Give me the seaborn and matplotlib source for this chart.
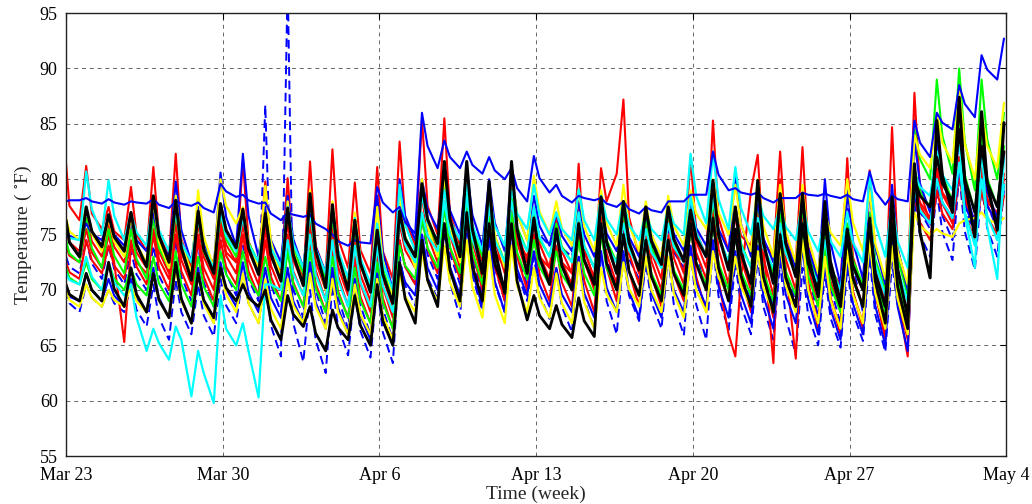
import numpy as np
import pandas as pd
import matplotlib
matplotlib.use("Agg")
import matplotlib.pyplot as plt
import seaborn as sns

# ---------------- data (deg F) ----------------
# Each series: value at start of Mar 23, then per day d (0..41):
# night value (ev), morning trough (tr) and evening peak (pk).
tick_labels = ["Mar 23", "Mar 30", "Apr 6", "Apr 13", "Apr 20", "Apr 27", "May 4"]
tick_days = [0, 7, 14, 21, 28, 35, 42]
y_ticks = [55, 60, 65, 70, 75, 80, 85, 90, 95]

bd1_start = 70.0
bd1_ev = [68.8, 69.3, 68.8, 68.2, 67.5, 68.0, 67.7, 68.6, 68.8, 66.8, 67.0, 65.5, 66.7, 66.3, 66.2, 70.4, 71.1, 70.7, 71.3, 70.6, 71.6,
          69.6, 68.5, 69.1, 69.0, 69.5, 68.9, 68.7, 68.7, 69.4, 68.6, 68.5, 67.5, 67.8, 67.5, 68.0, 67.8, 68.5, 75.0, 75.2, 75.3, 75.6]
bd1_tr = [68.0, 68.5, 68.0, 66.7, 65.5, 66.0, 65.8, 67.0, 67.0, 64.0, 63.5, 62.5, 64.1, 63.9, 63.4, 68.6, 69.2, 67.5, 68.1, 68.0, 69.0,
          67.4, 66.2, 66.5, 66.0, 67.2, 66.5, 65.9, 65.5, 66.4, 66.0, 65.5, 64.2, 65.0, 64.8, 65.4, 64.4, 65.9, 73.0, 72.7, 71.8, 73.0]
bd1_pk = [70.5, 70.0, 70.5, 70.5, 71.0, 70.5, 71.0, 71.5, 71.0, 98.0, 70.0, 70.5, 70.0, 70.5, 73.0, 74.0, 75.5, 76.0, 74.5, 75.5, 73.0,
          72.0, 73.0, 73.5, 73.0, 72.5, 73.0, 73.5, 74.0, 72.5, 73.0, 72.5, 72.0, 71.5, 72.0, 73.0, 72.5, 78.0, 79.0, 80.5, 79.5, 79.0]

bd2_start = 73.0
bd2_ev = [72.1, 72.4, 71.9, 71.4, 71.3, 71.2, 70.7, 71.5, 71.0, 70.5, 70.1, 70.0, 69.3, 68.6, 68.3, 72.1, 73.2, 73.3, 72.9, 72.0, 73.1,
          75.0, 73.8, 73.8, 72.7, 72.8, 73.9, 73.4, 73.2, 72.1, 71.4, 71.5, 71.6, 71.7, 70.2, 72.2, 70.6, 70.5, 77.1, 76.7, 77.4, 77.7]
bd2_tr = [71.5, 71.0, 70.5, 70.0, 69.5, 69.0, 68.5, 69.5, 69.0, 68.0, 67.5, 67.0, 66.5, 66.0, 65.5, 70.5, 71.0, 70.5, 69.5, 69.0, 70.5,
          74.0, 73.0, 72.0, 70.5, 71.0, 72.5, 72.0, 70.0, 69.5, 69.0, 68.5, 69.0, 67.5, 67.0, 68.0, 67.0, 66.5, 75.5, 74.5, 75.0, 75.5]
bd2_pk = [74.5, 74.0, 73.5, 74.0, 74.5, 74.0, 74.5, 74.0, 86.7, 74.0, 74.5, 73.5, 72.5, 72.5, 74.5, 76.5, 77.5, 78.0, 76.5, 77.0, 76.5,
          75.0, 76.5, 76.0, 75.5, 76.0, 75.5, 78.0, 76.0, 75.0, 76.0, 75.5, 78.0, 75.0, 78.5, 76.0, 76.5, 79.5, 80.0, 81.0, 80.5, 80.0]

r2_start = 72.5
r2_ev = [71.6, 72.7, 72.2, 72.1, 72.0, 71.7, 71.2, 72.1, 71.7, 71.2, 70.7, 70.6, 69.9, 69.4, 69.3, 72.1, 73.7, 73.8, 73.4, 72.2, 73.0,
         71.4, 70.7, 70.8, 72.0, 71.7, 71.3, 71.4, 71.2, 70.8, 71.0, 74.0, 72.0, 70.7, 69.2, 69.9, 69.9, 69.2, 77.9, 77.8, 78.1, 77.6]
r2_tr = [71.0, 71.5, 71.0, 70.5, 70.0, 69.5, 69.0, 70.5, 69.5, 69.0, 68.5, 68.0, 67.5, 67.0, 66.5, 70.5, 71.5, 71.0, 70.0, 69.0, 70.0,
         69.0, 68.5, 68.0, 69.0, 68.5, 68.5, 69.0, 68.0, 66.0, 79.0, 63.4, 63.8, 66.5, 66.0, 66.5, 65.5, 64.0, 76.5, 76.0, 75.5, 76.0]
r2_pk = [74.5, 74.0, 74.5, 75.0, 75.0, 74.5, 74.5, 75.0, 74.5, 74.0, 74.5, 73.5, 73.0, 73.5, 74.5, 77.0, 78.0, 78.5, 77.0, 77.5, 75.0,
         74.0, 75.0, 76.5, 76.5, 75.5, 75.0, 76.0, 78.0, 64.0, 82.2, 80.0, 77.0, 74.5, 75.0, 76.5, 77.0, 80.0, 80.5, 82.0, 80.0, 79.5]

r3_start = 74.0
r3_ev = [73.1, 73.4, 72.5, 72.5, 72.8, 72.7, 72.0, 73.1, 72.7, 72.2, 71.7, 71.8, 71.3, 70.6, 70.3, 73.6, 74.9, 75.0, 74.4, 73.2, 74.3,
         73.2, 72.5, 72.6, 73.3, 73.3, 72.6, 72.9, 73.4, 72.2, 71.0, 71.3, 71.3, 70.6, 69.3, 69.8, 69.6, 69.5, 76.1, 76.9, 76.9, 76.6]
r3_tr = [72.5, 72.0, 65.3, 71.5, 71.0, 70.5, 70.0, 71.5, 70.5, 70.0, 69.5, 69.0, 68.5, 68.0, 67.5, 72.0, 72.5, 72.0, 71.0, 70.0, 71.5,
         71.0, 70.5, 70.0, 70.5, 70.5, 70.0, 70.5, 71.0, 69.0, 68.0, 67.5, 68.5, 67.0, 66.5, 67.0, 66.0, 65.5, 74.5, 75.5, 74.5, 75.0]
r3_pk = [75.5, 75.0, 74.0, 75.5, 76.0, 75.0, 75.5, 76.0, 75.5, 75.0, 76.0, 75.5, 74.5, 74.5, 76.0, 78.5, 79.5, 79.5, 78.0, 78.5, 76.5,
         75.5, 76.5, 77.5, 77.5, 76.5, 76.5, 77.0, 77.0, 75.5, 77.0, 75.5, 76.0, 73.5, 74.0, 75.0, 75.5, 78.5, 79.0, 80.5, 79.0, 78.5]

r4_start = 75.5
r4_ev = [74.3, 74.4, 73.9, 73.4, 73.5, 73.4, 73.0, 74.1, 73.5, 73.0, 72.7, 72.6, 72.1, 71.4, 71.1, 74.6, 75.9, 75.8, 75.7, 74.5, 75.3,
         74.2, 73.5, 73.6, 74.1, 74.1, 73.4, 73.9, 74.4, 73.7, 72.8, 72.9, 72.8, 72.1, 70.8, 71.3, 71.1, 71.0, 77.6, 78.6, 78.4, 78.3]
r4_tr = [73.5, 73.0, 72.5, 72.0, 71.5, 71.0, 71.0, 72.5, 71.5, 71.0, 70.5, 70.0, 69.5, 69.0, 68.5, 73.0, 73.5, 73.0, 72.5, 71.5, 72.5,
         72.0, 71.5, 71.0, 71.5, 71.5, 71.0, 71.5, 72.0, 70.5, 70.0, 69.5, 70.0, 68.5, 68.0, 68.5, 67.5, 67.0, 76.0, 77.0, 76.0, 76.5]
r4_pk = [76.5, 76.0, 75.5, 76.5, 77.0, 76.0, 76.5, 76.5, 76.0, 76.0, 76.5, 76.0, 75.0, 75.0, 77.0, 79.5, 80.0, 80.5, 79.0, 79.5, 77.5,
         76.5, 77.5, 78.0, 78.0, 77.0, 77.5, 78.0, 78.5, 77.0, 78.0, 77.0, 77.5, 75.0, 75.5, 76.5, 77.0, 80.0, 81.0, 82.0, 81.0, 80.5]

r1_start = 81.4
r1_ev = [77.6, 76.9, 75.3, 75.0, 75.0, 74.6, 73.5, 73.4, 74.4, 73.6, 73.3, 74.0, 74.7, 73.6, 73.5, 76.4, 77.6, 76.9, 74.5, 73.5, 74.4,
         73.0, 72.5, 73.6, 78.0, 76.6, 73.6, 73.6, 75.3, 76.5, 74.9, 74.4, 75.0, 74.0, 71.8, 73.0, 72.0, 73.7, 79.0, 78.8, 77.6, 77.9]
r1_tr = [76.3, 75.5, 74.5, 73.5, 73.0, 72.0, 72.5, 72.5, 72.0, 71.5, 71.0, 71.5, 72.0, 71.5, 71.0, 74.0, 75.0, 74.0, 73.0, 72.0, 73.0,
         72.0, 71.5, 71.0, 80.5, 73.0, 72.5, 72.5, 73.0, 73.5, 74.0, 73.0, 72.5, 71.0, 70.5, 70.0, 69.0, 70.0, 76.0, 77.5, 76.5, 77.0]
r1_pk = [81.2, 77.5, 79.3, 81.1, 82.3, 76.5, 76.0, 81.7, 79.8, 80.1, 81.6, 82.7, 79.7, 81.1, 83.4, 85.5, 85.5, 79.0, 78.0, 78.5, 76.0,
         75.5, 81.4, 81.0, 87.2, 77.0, 77.0, 82.0, 85.3, 77.5, 78.5, 82.5, 82.9, 75.5, 81.9, 80.8, 84.7, 87.8, 82.5, 81.0, 80.5, 80.0]

g2_start = 72.0
g2_ev = [71.1, 71.0, 71.0, 70.5, 70.6, 70.5, 70.3, 71.4, 71.1, 70.6, 70.5, 70.2, 69.7, 69.0, 68.9, 72.2, 73.8, 73.9, 73.5, 72.6, 73.4,
         72.1, 71.4, 71.5, 72.0, 71.7, 71.5, 71.8, 72.5, 72.4, 71.7, 71.6, 71.7, 71.3, 70.4, 70.9, 71.0, 70.9, 78.9, 80.4, 80.4, 80.1]
g2_tr = [70.5, 70.0, 70.0, 69.5, 69.0, 68.5, 68.5, 70.0, 69.5, 69.0, 68.5, 68.0, 67.5, 67.0, 66.5, 71.0, 72.0, 71.5, 70.5, 70.0, 71.0,
         70.5, 70.0, 69.5, 70.0, 69.5, 69.5, 70.0, 70.5, 70.0, 69.5, 69.0, 69.5, 68.5, 68.0, 68.5, 68.0, 67.5, 77.5, 78.0, 77.0, 77.5]
g2_pk = [72.5, 72.5, 72.0, 73.0, 73.5, 73.0, 73.5, 73.5, 73.0, 73.5, 73.5, 73.0, 72.0, 72.5, 74.0, 76.5, 77.5, 78.0, 76.5, 77.0, 74.5,
         73.5, 74.5, 75.0, 75.0, 74.5, 74.5, 75.5, 76.0, 75.0, 75.5, 75.0, 75.5, 74.0, 74.5, 75.5, 76.0, 81.0, 84.0, 85.5, 84.0, 83.0]

g1_start = 74.5
g1_ev = [73.3, 73.8, 73.1, 72.8, 73.8, 73.7, 73.5, 74.6, 74.3, 73.8, 73.7, 73.4, 72.9, 72.2, 71.9, 74.8, 76.0, 75.9, 75.8, 74.9, 75.7,
         74.6, 73.9, 74.0, 74.5, 74.0, 73.8, 74.3, 74.8, 74.7, 74.2, 74.1, 73.7, 73.3, 72.2, 72.7, 72.8, 72.9, 81.8, 83.9, 83.4, 83.6]
g1_tr = [72.5, 72.0, 71.5, 71.0, 72.0, 71.5, 71.5, 73.0, 72.5, 72.0, 71.5, 71.0, 70.5, 70.0, 69.5, 73.0, 74.0, 73.5, 73.0, 72.5, 73.5,
         73.0, 72.5, 72.0, 72.5, 72.0, 72.0, 72.5, 73.0, 72.5, 72.0, 71.5, 71.5, 70.5, 70.0, 70.5, 70.0, 69.5, 80.0, 80.5, 79.0, 80.0]
g1_pk = [76.5, 75.5, 75.5, 76.5, 77.0, 76.5, 77.0, 77.0, 76.5, 77.0, 77.0, 76.5, 75.5, 75.5, 77.5, 79.0, 79.5, 80.0, 78.5, 79.0, 77.0,
         76.0, 77.0, 77.5, 77.0, 76.5, 77.0, 77.5, 78.0, 77.5, 78.0, 77.0, 77.5, 75.5, 76.0, 77.0, 78.0, 84.5, 89.0, 90.0, 89.0, 86.0]

b3_start = 70.0
b3_ev = [69.4, 70.0, 69.5, 69.2, 69.3, 69.2, 69.0, 70.1, 69.8, 69.3, 69.0, 68.9, 68.4, 67.7, 67.6, 70.7, 72.0, 72.1, 71.7, 70.8, 71.9,
         70.5, 69.6, 69.7, 70.2, 69.9, 69.7, 70.0, 70.7, 70.3, 69.6, 69.5, 69.6, 69.2, 68.3, 68.8, 68.6, 68.5, 77.0, 77.9, 77.7, 77.6]
b3_tr = [69.0, 69.0, 68.5, 68.0, 67.5, 67.0, 67.0, 68.5, 68.0, 67.5, 67.0, 66.5, 66.0, 65.5, 65.0, 69.5, 70.0, 69.5, 68.5, 68.0, 69.5,
         68.5, 68.0, 67.5, 68.0, 67.5, 67.5, 68.0, 68.5, 67.5, 67.0, 66.5, 67.0, 66.0, 65.5, 66.0, 65.0, 64.5, 76.0, 76.5, 75.5, 76.0]
b3_pk = [71.5, 71.0, 71.0, 72.0, 72.5, 72.0, 72.5, 72.5, 72.0, 72.0, 72.5, 72.0, 71.0, 71.5, 72.5, 75.0, 76.0, 76.5, 75.0, 75.5, 73.5,
         72.0, 73.0, 73.5, 73.5, 73.0, 73.0, 74.0, 74.5, 73.5, 74.0, 73.5, 74.0, 72.5, 73.0, 74.0, 74.5, 78.5, 80.0, 81.0, 80.0, 79.5]

b2_start = 75.5
b2_ev = [74.9, 75.1, 75.0, 74.5, 74.6, 75.4, 74.2, 76.6, 76.7, 74.5, 74.6, 73.9, 73.4, 72.7, 73.4, 76.7, 77.3, 77.2, 76.8, 76.1, 76.9,
         75.8, 74.9, 75.0, 75.1, 74.8, 74.6, 75.1, 75.6, 75.5, 76.0, 74.7, 74.4, 73.8, 74.3, 74.4, 73.9, 73.8, 79.6, 79.9, 79.2, 78.9]
b2_tr = [74.5, 74.5, 74.0, 73.5, 73.0, 72.5, 72.0, 74.0, 73.0, 72.5, 72.0, 71.5, 71.0, 70.5, 70.0, 74.5, 75.5, 75.0, 74.0, 73.5, 74.5,
         74.0, 73.5, 73.0, 73.5, 73.0, 73.0, 73.5, 74.0, 73.5, 73.0, 72.5, 72.0, 71.0, 70.5, 71.0, 70.5, 70.0, 77.0, 77.5, 76.0, 76.5]
b2_pk = [76.0, 76.5, 76.0, 77.0, 79.8, 77.5, 80.6, 82.3, 77.5, 78.5, 77.5, 77.0, 76.0, 78.5, 80.0, 80.0, 80.5, 81.0, 80.0, 80.5, 78.5,
         77.0, 78.0, 77.5, 77.5, 77.0, 77.5, 78.0, 78.5, 80.5, 78.0, 78.0, 78.0, 80.0, 79.5, 79.0, 79.5, 83.5, 83.5, 84.0, 82.5, 82.0]

y2_start = 70.0
y2_ev = [69.1, 69.3, 69.1, 69.0, 69.1, 69.0, 68.8, 69.6, 68.8, 68.3, 68.6, 68.5, 68.0, 67.8, 67.7, 69.4, 70.8, 70.7, 70.3, 69.6, 70.4,
         69.3, 68.8, 68.9, 69.6, 70.1, 70.0, 69.7, 70.0, 71.1, 70.3, 70.2, 70.4, 70.0, 69.1, 69.6, 69.7, 69.2, 75.8, 75.1, 76.3, 76.4]
y2_tr = [68.5, 68.5, 68.5, 68.0, 67.5, 67.0, 67.0, 68.0, 67.0, 66.5, 67.0, 66.5, 66.0, 66.0, 65.5, 68.0, 69.0, 68.5, 67.5, 67.0, 68.0,
         67.5, 67.0, 66.5, 68.0, 68.5, 68.0, 67.5, 68.0, 69.5, 68.5, 68.0, 68.0, 67.0, 66.5, 67.0, 66.5, 66.0, 75.0, 74.8, 76.5, 76.0]
y2_pk = [70.5, 70.0, 70.5, 71.5, 72.0, 71.5, 72.0, 71.5, 71.0, 71.0, 71.5, 71.0, 70.5, 71.0, 71.5, 73.5, 74.0, 74.5, 73.5, 74.0, 72.0,
         71.5, 72.5, 72.0, 72.5, 73.0, 73.0, 73.0, 73.5, 73.0, 73.5, 74.0, 74.5, 73.0, 73.5, 74.5, 74.0, 77.0, 75.5, 76.0, 77.0, 76.5]

y1_start = 76.5
y1_ev = [75.3, 75.1, 74.4, 74.1, 74.4, 74.3, 74.8, 77.6, 74.2, 74.4, 73.5, 73.6, 73.5, 72.8, 72.7, 74.6, 75.8, 75.7, 75.3, 75.0, 76.9,
         77.1, 75.6, 75.7, 76.0, 75.9, 75.0, 75.8, 76.9, 77.0, 75.9, 75.8, 75.3, 74.7, 75.2, 76.1, 74.2, 73.5, 82.2, 83.3, 83.2, 83.0]
y1_tr = [74.5, 73.5, 73.0, 72.5, 72.0, 71.5, 72.0, 76.0, 72.0, 71.0, 70.5, 70.0, 70.5, 70.0, 69.5, 72.0, 73.0, 72.5, 71.5, 72.0, 74.5,
         75.0, 74.0, 73.5, 74.0, 73.5, 73.0, 74.0, 75.5, 75.0, 73.5, 73.0, 72.5, 71.5, 74.0, 73.5, 71.0, 70.5, 81.0, 81.5, 80.0, 81.0]
y1_pk = [77.5, 76.5, 76.5, 78.0, 78.5, 79.0, 80.0, 77.5, 79.4, 78.0, 79.0, 78.0, 77.0, 77.5, 78.5, 80.0, 80.5, 81.0, 79.5, 80.5, 80.3,
         78.0, 79.0, 79.0, 79.5, 78.0, 78.5, 79.0, 80.0, 79.5, 80.0, 79.5, 79.5, 77.0, 80.0, 79.0, 78.0, 84.0, 86.0, 88.1, 86.0, 86.9]

c2_start = 71.5
c2_ev = [70.9, 71.2, 70.7, 67.5, 65.2, 65.5, 62.5, 66.5, 64.5, 70.5, 71.5, 71.4, 70.9, 70.7, 70.4, 74.1, 74.9, 75.0, 74.6, 74.5, 75.3,
         74.8, 73.7, 74.0, 73.9, 73.6, 73.4, 73.9, 75.2, 74.9, 74.0, 73.8, 73.3, 72.7, 71.8, 72.0, 72.3, 71.8, 77.2, 77.9, 77.0, 76.7]
c2_tr = [70.5, 70.0, 69.5, 64.5, 63.7, 60.4, 59.8, 65.0, 60.3, 70.0, 69.5, 69.0, 68.5, 68.5, 68.0, 72.5, 73.5, 73.0, 72.0, 72.5, 73.5,
         73.0, 72.5, 72.0, 72.5, 72.0, 72.0, 72.5, 73.0, 72.5, 72.0, 72.0, 71.5, 70.5, 70.0, 70.0, 69.5, 69.0, 76.0, 76.5, 74.0, 74.5]
c2_pk = [73.0, 72.5, 70.5, 66.5, 66.7, 64.5, 69.5, 67.0, 70.5, 74.5, 75.0, 74.5, 74.0, 74.0, 76.5, 77.0, 78.0, 78.5, 77.5, 78.0, 77.5,
         75.5, 77.0, 76.0, 76.0, 75.5, 76.0, 78.5, 78.5, 77.0, 76.5, 76.0, 76.0, 74.5, 75.0, 76.5, 76.0, 79.0, 80.0, 81.5, 80.0, 79.5]

c1_start = 75.0
c1_ev = [74.7, 77.3, 76.7, 75.2, 75.4, 74.3, 73.8, 74.9, 74.1, 73.8, 74.2, 73.7, 73.6, 72.9, 72.4, 75.9, 76.1, 76.3, 75.9, 75.8, 76.9,
         76.8, 75.5, 76.3, 76.4, 75.9, 75.5, 76.0, 78.5, 78.2, 77.4, 76.7, 75.7, 75.3, 74.4, 74.3, 76.0, 74.4, 79.3, 80.4, 76.8, 75.8]
c1_tr = [74.5, 75.0, 74.5, 74.0, 73.5, 72.5, 72.0, 73.5, 72.5, 72.0, 72.0, 71.5, 71.0, 70.5, 70.0, 73.5, 74.5, 74.5, 73.5, 74.0, 75.5,
         75.0, 74.5, 74.5, 75.0, 74.5, 74.5, 75.0, 76.0, 75.5, 75.0, 75.5, 74.5, 73.5, 73.0, 72.5, 73.0, 72.0, 78.5, 79.0, 72.0, 71.0]
c1_pk = [80.7, 79.9, 77.0, 78.3, 77.0, 76.5, 77.0, 76.5, 76.5, 77.5, 77.0, 77.5, 76.5, 76.0, 79.5, 78.5, 79.0, 79.5, 78.5, 79.0, 79.5,
         77.0, 79.1, 78.5, 78.0, 77.0, 77.5, 82.3, 82.3, 81.1, 78.5, 77.5, 78.0, 76.5, 77.0, 80.5, 78.0, 80.5, 82.5, 84.0, 83.0, 82.0]

b0_start = 78.0
b0_ev = [78.1, 78.0, 77.9, 77.9, 77.7, 77.8, 77.4, 78.9, 78.1, 76.9, 76.8, 76.0, 74.4, 74.3, 77.9, 76.1, 83.0, 82.0, 81.3, 80.8, 79.2,
         80.1, 78.5, 78.3, 77.8, 77.3, 77.2, 78.0, 78.6, 80.4, 78.8, 78.3, 78.3, 78.6, 78.5, 78.2, 78.9, 78.2, 83.3, 85.1, 86.8, 89.9]
b0_tr = [78.1, 77.8, 77.7, 77.8, 77.4, 77.6, 77.0, 78.4, 77.8, 76.3, 76.6, 75.5, 74.0, 74.2, 77.0, 75.1, 81.0, 81.0, 80.5, 80.0, 78.0,
         78.8, 77.9, 78.1, 77.5, 76.9, 77.0, 78.0, 78.6, 79.0, 78.6, 77.9, 78.3, 78.5, 78.3, 78.0, 77.7, 78.0, 82.0, 84.5, 85.6, 89.0]
b0_pk = [78.3, 78.2, 78.0, 78.2, 78.0, 77.9, 79.6, 78.6, 77.9, 77.0, 76.8, 75.0, 74.5, 79.3, 77.5, 86.0, 83.5, 82.5, 82.0, 81.0, 82.1,
         79.5, 78.5, 78.3, 78.0, 77.5, 78.0, 78.6, 82.5, 79.2, 78.8, 78.3, 78.8, 78.7, 78.6, 80.7, 78.6, 85.3, 86.0, 88.5, 91.2, 92.7]

k2_start = 70.5
k2_ev = [69.6, 70.0, 70.1, 69.6, 69.1, 69.2, 69.1, 70.2, 69.3, 67.3, 67.8, 66.1, 66.6, 66.8, 67.2, 69.2, 70.9, 71.8, 72.2, 72.4, 70.8,
         67.7, 66.9, 67.2, 72.4, 71.7, 71.2, 71.5, 72.4, 72.0, 71.3, 71.2, 71.1, 72.4, 72.6, 71.1, 70.8, 70.3, 78.5, 79.6, 80.0, 79.7]
k2_tr = [69.0, 69.0, 68.5, 68.0, 67.5, 67.0, 67.5, 69.0, 68.5, 65.5, 66.7, 64.5, 65.5, 65.0, 65.0, 67.0, 68.5, 69.0, 69.0, 70.0, 67.3,
         66.5, 65.7, 65.8, 70.0, 69.5, 69.0, 69.5, 70.0, 69.0, 68.5, 68.0, 68.5, 70.0, 69.0, 68.5, 67.0, 66.5, 77.5, 78.0, 77.0, 77.5]
k2_pk = [71.5, 72.5, 72.0, 71.5, 72.5, 71.5, 72.0, 70.5, 70.0, 69.5, 68.5, 68.2, 69.5, 70.5, 72.5, 74.5, 76.0, 77.0, 76.0, 76.0, 69.5,
         68.6, 69.3, 76.0, 75.0, 74.5, 74.5, 76.0, 76.5, 75.5, 76.0, 75.0, 76.0, 78.0, 75.0, 76.5, 76.0, 80.0, 82.0, 84.5, 83.0, 82.5]

k1_start = 76.3
k1_ev = [74.3, 75.3, 74.8, 74.1, 74.9, 73.8, 73.7, 75.4, 73.8, 73.2, 73.2, 73.6, 73.1, 72.4, 71.4, 74.6, 76.4, 76.4, 75.5, 73.7, 75.5,
         72.9, 72.2, 72.7, 74.3, 74.3, 74.4, 74.6, 74.7, 75.0, 73.4, 74.3, 74.2, 73.1, 71.7, 72.2, 71.5, 71.9, 75.2, 80.3, 79.8, 79.7]
k1_tr = [73.0, 73.9, 73.5, 72.1, 72.5, 70.9, 71.5, 73.8, 71.4, 70.8, 70.4, 70.2, 70.0, 69.8, 68.8, 73.0, 74.2, 73.0, 71.5, 69.7, 71.5,
         70.5, 70.0, 70.5, 71.5, 71.8, 72.3, 72.6, 73.0, 71.8, 70.6, 70.6, 71.2, 69.4, 68.5, 70.0, 68.5, 67.6, 71.1, 77.0, 74.8, 75.4]
k1_pk = [77.5, 76.8, 77.0, 78.5, 78.1, 77.1, 77.8, 77.3, 76.9, 77.4, 78.7, 77.7, 76.3, 75.4, 77.1, 79.6, 81.6, 81.6, 79.8, 81.6, 76.5,
         75.5, 76.0, 78.4, 78.0, 77.5, 77.5, 77.2, 79.9, 77.5, 79.9, 78.7, 78.7, 76.5, 75.5, 76.0, 78.4, 81.4, 85.3, 87.4, 86.1, 85.1]

# drawing order, colour, width, dashed
series = [
    ("bd1", bd1_start, bd1_ev, bd1_tr, bd1_pk, "#0000FF", 1.4, True),
    ("bd2", bd2_start, bd2_ev, bd2_tr, bd2_pk, "#0000FF", 1.4, True),
    ("r2", r2_start, r2_ev, r2_tr, r2_pk, "#FF0000", 1.5, False),
    ("r3", r3_start, r3_ev, r3_tr, r3_pk, "#FF0000", 1.5, False),
    ("r4", r4_start, r4_ev, r4_tr, r4_pk, "#FF0000", 1.5, False),
    ("r1", r1_start, r1_ev, r1_tr, r1_pk, "#FF0000", 1.5, False),
    ("g2", g2_start, g2_ev, g2_tr, g2_pk, "#00FF00", 1.5, False),
    ("g1", g1_start, g1_ev, g1_tr, g1_pk, "#00FF00", 1.5, False),
    ("b3", b3_start, b3_ev, b3_tr, b3_pk, "#0000FF", 1.5, False),
    ("b2", b2_start, b2_ev, b2_tr, b2_pk, "#0000FF", 1.5, False),
    ("y2", y2_start, y2_ev, y2_tr, y2_pk, "#FFFF00", 1.6, False),
    ("y1", y1_start, y1_ev, y1_tr, y1_pk, "#FFFF00", 1.6, False),
    ("c2", c2_start, c2_ev, c2_tr, c2_pk, "#00FFFF", 1.6, False),
    ("c1", c1_start, c1_ev, c1_tr, c1_pk, "#00FFFF", 1.6, False),
    ("b0", b0_start, b0_ev, b0_tr, b0_pk, "#0000FF", 1.5, False),
    ("k2", k2_start, k2_ev, k2_tr, k2_pk, "#000000", 2.0, False),
    ("k1", k1_start, k1_ev, k1_tr, k1_pk, "#000000", 2.2, False),
]

# ---------------- build long table ----------------
rows = []
for name, s0, ev, tr, pk, *_ in series:
    n = min(len(ev), len(tr), len(pk))
    rows.append((name, 0.0, s0))
    for d in range(n):
        rows.append((name, d + 0.15, ev[d]))
        rows.append((name, d + 0.6, tr[d]))
        rows.append((name, d + 0.9, pk[d]))
df = pd.DataFrame(rows, columns=["series", "t", "temp"])

# ---------------- plot ----------------
sns.set_theme(style="white")
plt.rcParams["font.family"] = ["Liberation Serif", "DejaVu Serif"]
plt.rcParams["mathtext.fontset"] = "stix"

fig = plt.figure(figsize=(10.32, 5.04), dpi=100)
ax = fig.add_axes([0.064, 0.095, 0.911, 0.879])

for name, s0, ev, tr, pk, color, lw, dashed in series:
    sub = df[df["series"] == name]
    sns.lineplot(data=sub, x="t", y="temp", color=color, linewidth=lw,
                 estimator=None, sort=False, ax=ax, legend=False)
    if dashed:
        ax.lines[-1].set_dashes([4.5, 2.5])

ax.set_xlim(0, 42)
ax.set_ylim(55, 95)
ax.set_xticks(tick_days)
ax.set_xticklabels(tick_labels)
ax.set_yticks(y_ticks)
ax.tick_params(axis="both", direction="in", length=4, width=0.8, labelsize=13,
               top=True, right=True, colors="black")
ax.tick_params(axis="x", pad=8)
ax.tick_params(axis="y", pad=6)
ax.grid(True, color="#666666", linestyle=(0, (4, 4)), linewidth=0.7)
ax.set_axisbelow(True)
for sp in ax.spines.values():
    sp.set_visible(True)
    sp.set_color("#222222")
    sp.set_linewidth(1.0)

ax.set_xlabel("Time (week)", fontsize=14, labelpad=1)
ax.set_ylabel(r"Temperature ( $^{\circ}$F)", fontsize=14, labelpad=4)

fig.savefig("out.png", dpi=100, facecolor="white")
